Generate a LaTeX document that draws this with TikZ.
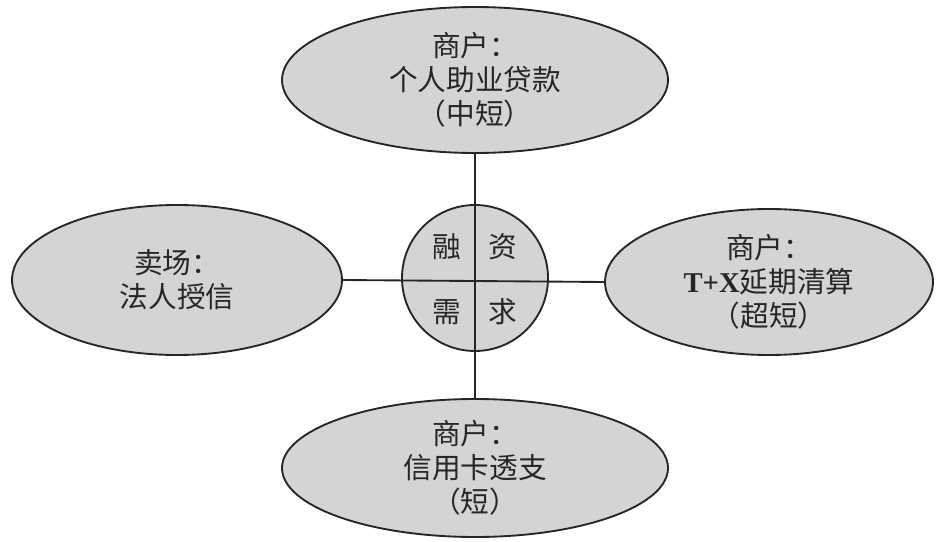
\documentclass[tikz,border=0pt]{standalone}
\usepackage{fontspec}
\setmainfont{Noto Sans CJK SC}
\newfontfamily\latinfont{Liberation Serif}
\usetikzlibrary{shapes.geometric,positioning}

\begin{document}
\begin{tikzpicture}[x=0.75pt,y=-0.75pt,
    every node/.style={font=\fontsize{21.5}{25.5}\selectfont, text=black!85},
    oval/.style={ellipse, draw=black!85, line width=1.4pt, fill=black!17, align=center, inner sep=0pt},
    hub/.style={circle, draw=black!85, line width=1.4pt, fill=black!17, minimum size=109.5pt, inner sep=0pt},
    link/.style={draw=black!85, line width=1.4pt}]
  \useasboundingbox (0,0) rectangle (936,542);
  % centre
  \node[hub] (hub) at (475,278) {};
  \node (rong) at (447,247) {融};
  \node (zi)   at (503,247) {资};
  \node (xu)   at (447,312) {需};
  \node (qiu)  at (503,312) {求};
  % four ovals
  \node[oval, minimum width=289.5pt, minimum height=109.5pt] (top) at (475,80)
       {商户：\\个人助业贷款\\（中短）};
  \node[oval, minimum width=247.5pt, minimum height=112.5pt] (left) at (177,280)
       {卖场：\\法人授信};
  \node[oval, minimum width=246pt, minimum height=109.5pt] (right) at (769,282)
       {商户：\\{\latinfont\bfseries T+X}延期清算\\（超短）};
  \node[oval, minimum width=289.5pt, minimum height=103.5pt] (bottom) at (475,468)
       {商户：\\信用卡透支\\（短）};
  % cross
  \path[link] (top.south) -- (bottom.north)
              (left.east) -- (right.west);
\end{tikzpicture}
\end{document}
